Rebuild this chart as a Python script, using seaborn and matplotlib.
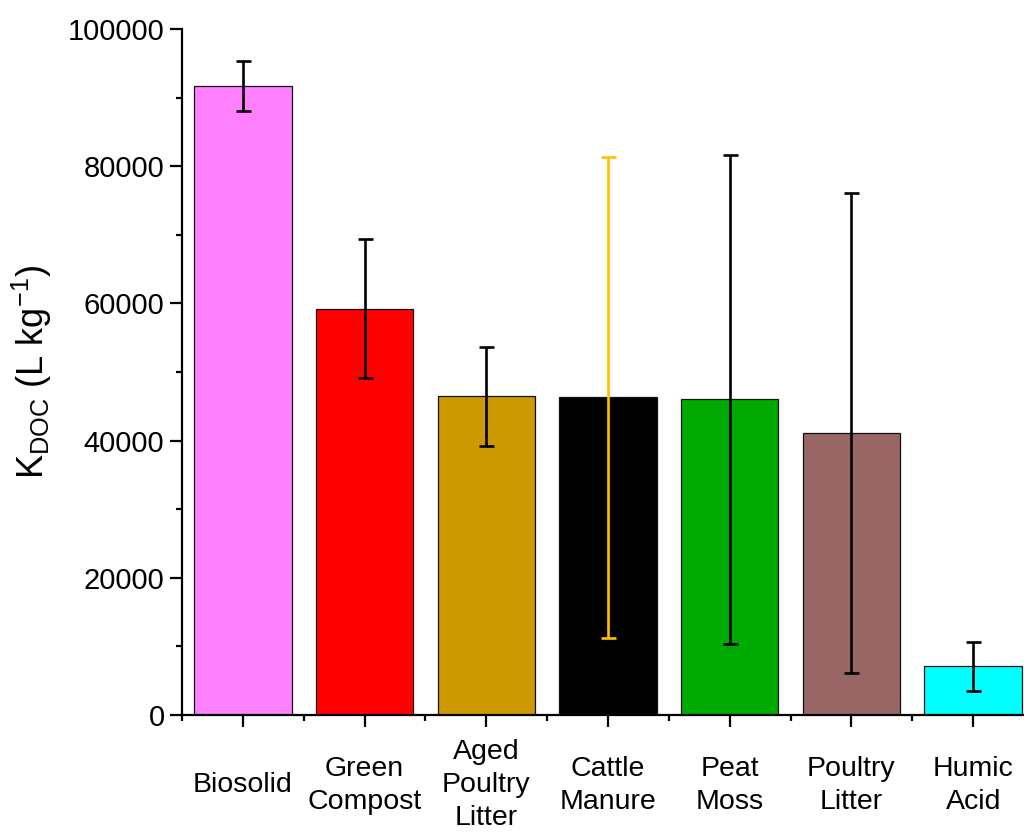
import matplotlib
matplotlib.use("Agg")
import matplotlib.pyplot as plt
import seaborn as sns
import numpy as np
from matplotlib.ticker import MultipleLocator, FixedLocator

categories = ["Biosolid", "Green\nCompost", "Aged\nPoultry\nLitter", "Cattle\nManure",
              "Peat\nMoss", "Poultry\nLitter", "Humic\nAcid"]
kdoc = [91700, 59250, 46450, 46300, 46000, 41100, 7070]
kdoc_err = [3650, 10150, 7250, 35050, 35600, 35000, 3570]
bar_colors = ["#FF80FF", "#FF0000", "#CC9900", "#000000", "#00AA00", "#996666", "#00FFFF"]
err_colors = ["#000000", "#000000", "#000000", "#FFC000", "#000000", "#000000", "#000000"]

sns.set_style("ticks", {"axes.edgecolor": "black", "text.color": "black",
                        "xtick.color": "black", "ytick.color": "black",
                        "axes.labelcolor": "black"})
plt.rcParams["font.family"] = ["Liberation Sans", "DejaVu Sans"]
plt.rcParams["mathtext.fontset"] = "custom"
plt.rcParams["mathtext.rm"] = "Liberation Sans"
plt.rcParams["mathtext.it"] = "Liberation Sans:italic"
plt.rcParams["mathtext.bf"] = "Liberation Sans:bold"
plt.rcParams["mathtext.default"] = "regular"

fig = plt.figure(figsize=(10.24, 8.33), dpi=100)
ax = fig.add_axes([182 / 1024, 1 - 715 / 833, 852 / 1024, 686 / 833])

sns.barplot(x=categories, y=kdoc, hue=categories, palette=bar_colors, legend=False,
            errorbar=None, edgecolor="#111111", linewidth=0.9, width=0.8, ax=ax,
            saturation=1)

for i in range(len(categories)):
    ax.errorbar(i, kdoc[i], yerr=kdoc_err[i], fmt="none", ecolor=err_colors[i],
                elinewidth=1.9, capsize=5.4, capthick=1.9, zorder=5)

ax.set_xlim(-0.5, len(categories) - 0.5)
ax.set_ylim(0, 100000)
ax.yaxis.set_major_locator(MultipleLocator(20000))
ax.yaxis.set_minor_locator(MultipleLocator(10000))
ax.set_xticks(range(len(categories)), categories, va="center", fontsize=20.5,
              linespacing=1.35, color="black")
ax.xaxis.set_minor_locator(FixedLocator(np.arange(-0.5, len(categories), 1.0)))

for s in ["top", "right"]:
    ax.spines[s].set_visible(False)
for s in ["left", "bottom"]:
    ax.spines[s].set_linewidth(1.6)
    ax.spines[s].set_color("black")

ax.tick_params(axis="both", which="major", direction="out", length=8.6, width=1.6,
               color="black", labelcolor="black")
ax.tick_params(axis="both", which="minor", direction="out", length=4.3, width=1.6,
               color="black")
ax.tick_params(axis="y", which="major", labelsize=21, pad=4)
ax.tick_params(axis="x", which="major", pad=42)

ax.set_xlabel("")
ax.set_ylabel(r"K$_{DOC}$ (L kg$^{-1}$)", fontsize=26, color="black")
ax.yaxis.set_label_coords(-0.15, 0.5)

fig.savefig("out.png", dpi=100)
